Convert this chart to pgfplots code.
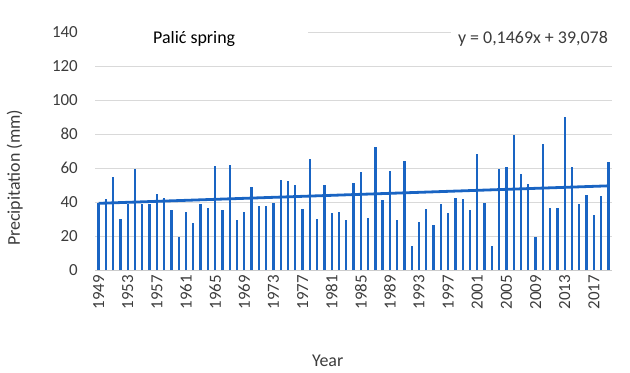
\documentclass[border=0pt]{standalone}
\usepackage{pgfplots}
\pgfplotsset{compat=1.18}
\usepackage{fontspec}
\setmainfont{Carlito}
\definecolor{barblue}{RGB}{25,100,195}
\definecolor{txt}{RGB}{60,60,60}
\begin{document}
\begin{tikzpicture}[x=1bp,y=1bp]
\useasboundingbox (0,0) rectangle (630,372);
\begin{axis}[
  at={(95bp,102bp)}, anchor=south west,
  scale only axis, width=517bp, height=238bp,
  xmin=1948.5, xmax=2019.5, ymin=0, ymax=140,
  ytick={0,20,...,140},
  xtick={1949,1953,...,2017},
  ymajorgrids, grid style={draw=black!15, line width=0.8bp},
  axis lines*=left,
  y axis line style={draw=none},
  x axis line style={draw=black!20, line width=0.8bp},
  tick style={draw=none},
  /pgf/number format/assume math mode=true,
  /pgf/number format/1000 sep={},
  yticklabel style={font=\fontsize{17}{20}\selectfont, text=txt, anchor=east, inner sep=0pt, xshift=-17bp},
  xticklabel style={font=\fontsize{17}{20}\selectfont, text=txt, yshift=-5bp, rotate=90, anchor=east, inner sep=0pt},
  ylabel={Precipitation (mm)},
  every axis y label/.style={at={(axis description cs:-0.155,0.387)}, rotate=90, anchor=center, font=\fontsize{18}{21}\selectfont, text=txt},
  xlabel={Year},
  every axis x label/.style={at={(axis description cs:0.45,-0.382)}, anchor=center, font=\fontsize{18}{21}\selectfont, text=txt},
]
\addplot[ycomb, draw=barblue, line width=2.3bp, mark=none] coordinates {
(1949,39.5) (1950,41.6) (1951,54.5) (1952,30.2) (1953,38.6) (1954,59.6) (1955,38.6) (1956,38.8)
(1957,44.5) (1958,42.5) (1959,35.1) (1960,19.2) (1961,34.1) (1962,27.4) (1963,38.6) (1964,36.5)
(1965,61.0) (1966,35.1) (1967,61.6) (1968,29.2) (1969,34.3) (1970,49.0) (1971,37.5) (1972,37.5)
(1973,39.4) (1974,52.7) (1975,52.4) (1976,50.0) (1977,36.1) (1978,65.1) (1979,30.0) (1980,49.8)
(1981,33.3) (1982,33.9) (1983,29.4) (1984,51.2) (1985,57.8) (1986,30.8) (1987,72.5) (1988,41.2)
(1989,58.2) (1990,29.2) (1991,64.1) (1992,14.3) (1993,28.4) (1994,35.9) (1995,26.5) (1996,39.0)
(1997,33.5) (1998,42.2) (1999,41.6) (2000,35.5) (2001,68.4) (2002,39.4) (2003,13.9) (2004,59.6)
(2005,60.8) (2006,79.2) (2007,56.3) (2008,50.8) (2009,19.2) (2010,74.1) (2011,36.5) (2012,36.7)
(2013,90.2) (2014,60.8) (2015,38.8) (2016,44.1) (2017,32.4) (2018,43.7) (2019,63.5)
};
\addplot[draw=barblue, line width=2.8bp, mark=none] coordinates {(1949,39.225) (2019,49.508)};
\node[anchor=base west, fill=white, inner xsep=0pt, inner ysep=3bp, font=\fontsize{18}{21}\selectfont, text=black]
  at (axis cs:1948.5,133.5) {\hspace*{58bp}Palić spring\hspace*{73bp}};
\node[anchor=base east, fill=white, inner xsep=0pt, inner ysep=3bp, font=\fontsize{18}{21}\selectfont, text=txt]
  at (axis cs:2019.5,133.5) {\hspace*{7bp}y = 0,1469x + 39,078\hspace*{4bp}};
\end{axis}
\end{tikzpicture}
\end{document}
